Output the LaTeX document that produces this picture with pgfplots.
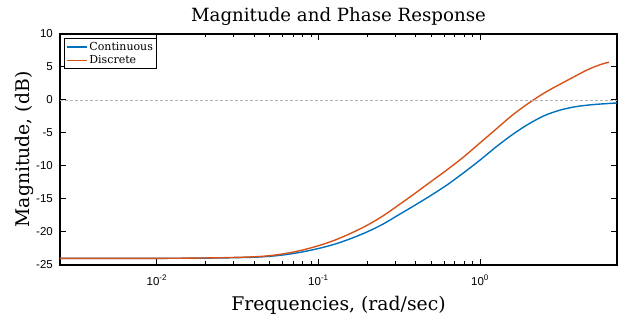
\documentclass[border=0pt]{standalone}
\usepackage{fontspec}
\setmainfont{DejaVu Serif}
\setsansfont{Liberation Sans}
\usepackage{pgfplots}
\pgfplotsset{compat=1.18}
\definecolor{mblue}{rgb}{0,0.447,0.741}
\definecolor{morange}{rgb}{0.85,0.325,0.098}
\begin{document}
\begin{tikzpicture}
\useasboundingbox (-60pt,-53pt) rectangle (563pt,265pt);
\begin{axis}[
  at={(0,0)}, anchor=south west,
  scale only axis, width=557pt, height=231pt,
  xmode=log, xmin=0.002512, xmax=7.047,
  ymin=-25, ymax=10,
  ytick={-25,-20,-15,-10,-5,0,5,10},
  yticklabels={-25,-20,-15,-10,-5,0,5,10},
  xtick={0.01,0.1,1},
  xticklabels={10\textsuperscript{-2},10\textsuperscript{-1},10\textsuperscript{0}},
  tick align=inside,
  major tick length=6pt, minor tick length=3.5pt,
  axis line style={line width=1.5pt},
  every tick/.style={black, line width=1pt},
  ticklabel style={font=\sffamily\fontsize{11.5}{13}\selectfont},
  yticklabel style={inner sep=0pt, xshift=-7pt},
  xticklabel style={inner sep=0pt, yshift=-10pt},
  title={Magnitude and Phase Response},
  title style={at={(axis description cs:0.5,1.03)}, anchor=base, font=\fontsize{18.2}{20}\selectfont, inner sep=0pt},
  xlabel={Frequencies, (rad/sec)},
  xlabel style={at={(axis description cs:0.5,-0.195)}, anchor=base, font=\fontsize{18.8}{20}\selectfont, inner sep=0pt},
  ylabel={Magnitude, (dB)},
  ylabel style={at={(axis description cs:-0.0548,0.5)}, anchor=base, font=\fontsize{18.8}{20}\selectfont, inner sep=0pt},
  legend style={at={(axis description cs:0.007,0.983)}, anchor=north west, draw=black, line width=1.2pt,
    font=\fontsize{11}{12.5}\selectfont, inner sep=1.5pt, row sep=0pt, cells={anchor=west}},
  legend image code/.code={\draw[#1, line width=1.4pt] (0pt,0pt) -- (20pt,0pt);},
]
\addplot[mblue, line width=1.4pt, smooth] coordinates {
(0.002512,-24.00) (0.005012,-24.00) (0.01,-23.99) (0.01585,-23.97) (0.02512,-23.93)
(0.03981,-23.82) (0.05012,-23.68) (0.06310,-23.42) (0.07943,-23.02) (0.1,-22.50)
(0.1259,-21.85) (0.1585,-21.00) (0.1995,-20.00) (0.2512,-18.80) (0.3162,-17.35)
(0.3981,-15.90) (0.5012,-14.40) (0.6310,-12.80) (0.7943,-11.00) (1.0,-9.10)
(1.259,-7.10) (1.585,-5.25) (1.995,-3.65) (2.512,-2.35) (3.162,-1.50)
(3.981,-0.98) (5.012,-0.70) (6.310,-0.52) (7.047,-0.45)
};
\addlegendentry{Continuous}
\addplot[morange, line width=1.4pt, smooth] coordinates {
(0.002512,-24.00) (0.005012,-24.00) (0.01,-23.99) (0.01585,-23.96) (0.02512,-23.90)
(0.03981,-23.76) (0.05012,-23.58) (0.06310,-23.24) (0.07943,-22.74) (0.1,-22.08)
(0.1259,-21.25) (0.1585,-20.20) (0.1995,-19.00) (0.2512,-17.55) (0.3162,-15.85)
(0.3981,-14.10) (0.5012,-12.30) (0.6310,-10.50) (0.7943,-8.60) (1.0,-6.50)
(1.259,-4.40) (1.585,-2.30) (1.995,-0.50) (2.512,1.10) (3.162,2.45)
(3.981,3.75) (4.467,4.40) (5.012,4.95) (5.623,5.40) (6.026,5.62) (6.281,5.72)
};
\addlegendentry{Discrete}
\addplot[gray!60, dash pattern=on 3pt off 2pt, line width=0.5pt, forget plot] coordinates {(0.002512,0) (7.047,0)};
\end{axis}
\end{tikzpicture}
\end{document}
